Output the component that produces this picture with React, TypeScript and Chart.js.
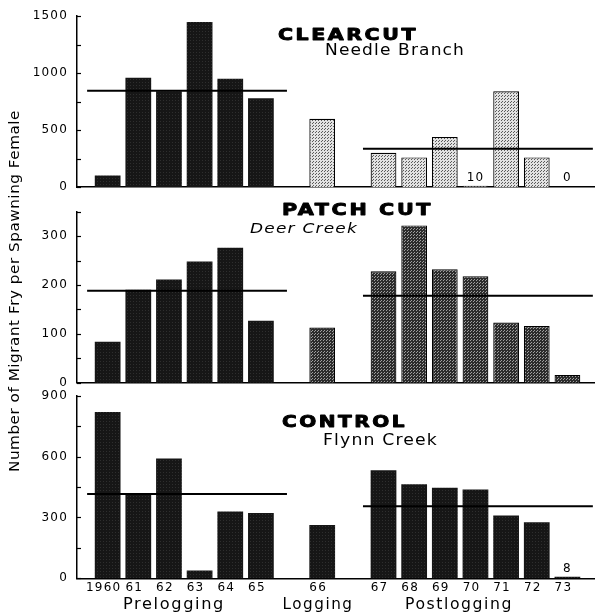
import React, { useEffect, useRef } from 'react';
import { Chart, registerables } from 'chart.js';
Chart.register(...registerables);

const W = 595;
const H = 616;
const FONT = 'DejaVu Sans';

// categories (years)
const preYears = ['1960', '61', '62', '63', '64', '65'];
const logYears = ['66'];
const postYears = ['67', '68', '69', '70', '71', '72', '73'];
const groupLabels = ['Prelogging', 'Logging', 'Postlogging'];
const yTitle = 'Number of Migrant Fry per Spawning Female';

// CLEARCUT – Needle Branch
const clearcutPre = [100, 960, 840, 1450, 950, 780];
const clearcutLog = [600];
const clearcutPost = [300, 260, 440, 10, 840, 260, 0];
const clearcutMeans = [845, 335];

// PATCH CUT – Deer Creek
const patchPre = [84, 190, 211, 248, 276, 127];
const patchLog = [113];
const patchPost = [228, 322, 232, 218, 123, 116, 16];
const patchMeans = [188, 178];

// CONTROL – Flynn Creek
const controlPre = [820, 410, 590, 38, 329, 322];
const controlLog = [263];
const controlPost = [533, 463, 446, 438, 309, 276, 8];
const controlMeans = [415, 355];

// y-axis ticks
const clearcutTicks = { max: 1500, step: 250, label: 500 };
const patchTicks = { max: 350, step: 50, label: 100 };
const controlTicks = { max: 900, step: 150, label: 300 };

// slot index on the x axis for each year (one empty slot between groups)
const preSlots = preYears.map((_, i) => i);
const logSlots = logYears.map((_, i) => preYears.length + 1 + i);
const postSlots = postYears.map((_, i) => preYears.length + logYears.length + 2 + i);
const allSlots = [...preSlots, ...logSlots, ...postSlots];
const allYears = [...preYears, ...logYears, ...postYears];

type Fill = 'dark' | 'light' | 'mid';

function makePattern(kind: Fill): CanvasPattern | string {
  const c = document.createElement('canvas');
  c.width = 3;
  c.height = 3;
  const g = c.getContext('2d');
  if (!g) return '#222';
  if (kind === 'light') {
    g.fillStyle = '#e2e2e2';
    g.fillRect(0, 0, 3, 3);
    g.fillStyle = '#5a5a5a';
    g.fillRect(0, 0, 1, 1);
    g.fillRect(1, 2, 1, 1);
  } else if (kind === 'mid') {
    g.fillStyle = '#2c2c2c';
    g.fillRect(0, 0, 3, 3);
    g.fillStyle = '#a0a0a0';
    g.fillRect(0, 0, 1, 1);
    g.fillRect(2, 1, 1, 1);
  } else {
    g.fillStyle = '#161616';
    g.fillRect(0, 0, 3, 3);
    g.fillStyle = '#2e2e2e';
    g.fillRect(1, 1, 1, 1);
  }
  return g.createPattern(c, 'repeat') || '#222';
}

type TextItem = {
  text: string;
  x: number;
  y: number;
  font: string;
  width: number; // target drawn width (text is stretched horizontally to it)
  spacing?: number;
  align?: CanvasTextAlign;
  rotate?: boolean;
  heavy?: boolean;
};

interface Panel {
  pre: number[];
  log: number[];
  post: number[];
  means: number[];
  ticks: { max: number; step: number; label: number };
  top: number;
  bottom: number;
  fills: Fill[];
  showX: boolean;
  texts: TextItem[];
}

const TITLE_FONT = `bold 16px "${FONT}"`;
const SUB_FONT = `15px "${FONT}"`;

const panels: Panel[] = [
  {
    pre: clearcutPre, log: clearcutLog, post: clearcutPost, means: clearcutMeans,
    ticks: clearcutTicks, top: 12.5, bottom: 187, fills: ['dark', 'light', 'light'], showX: false,
    texts: [
      { text: 'CLEARCUT', x: 278, y: 40, font: TITLE_FONT, spacing: 2, width: 140, heavy: true },
      { text: 'Needle Branch', x: 325, y: 55, font: SUB_FONT, spacing: 1, width: 140 },
    ],
  },
  {
    pre: patchPre, log: patchLog, post: patchPost, means: patchMeans,
    ticks: patchTicks, top: 211.7, bottom: 382.7, fills: ['dark', 'mid', 'mid'], showX: false,
    texts: [
      { text: 'PATCH CUT', x: 282, y: 214.5, font: TITLE_FONT, spacing: 2, width: 151, heavy: true },
      { text: 'Deer Creek', x: 250, y: 232.5, font: `italic 14px "${FONT}"`, spacing: 1, width: 108 },
    ],
  },
  {
    pre: controlPre, log: controlLog, post: controlPost, means: controlMeans,
    ticks: controlTicks, top: 395.7, bottom: 578.3, fills: ['dark', 'dark', 'dark'], showX: true,
    texts: [
      { text: 'CONTROL', x: 282, y: 427, font: TITLE_FONT, spacing: 2, width: 125, heavy: true },
      { text: 'Flynn Creek', x: 323, y: 445, font: SUB_FONT, spacing: 1, width: 115 },
      { text: groupLabels[0], x: 174, y: 609, font: `15px "${FONT}"`, spacing: 1.5, width: 102, align: 'center' },
      { text: groupLabels[1], x: 318, y: 609, font: `15px "${FONT}"`, spacing: 1.5, width: 71, align: 'center' },
      { text: groupLabels[2], x: 459, y: 609, font: `15px "${FONT}"`, spacing: 1.5, width: 108, align: 'center' },
      { text: yTitle, x: 15, y: 291, font: `14px "${FONT}"`, spacing: 0.5, width: 362, align: 'center', rotate: true },
    ],
  },
];

const X_MIN = -1;
const X_MAX = 15.9;
const PRE_SPAN = [-0.67, 5.85];
const POST_SPAN = [8.33, 15.83];

function makeChart(canvas: HTMLCanvasElement, p: Panel): Chart {
  const toPts = (vals: number[], slots: number[]) => vals.map((v, i) => ({ x: slots[i], y: v }));
  const bar = (vals: number[], slots: number[], fill: Fill) => ({
    type: 'bar' as const,
    data: toPts(vals, slots),
    backgroundColor: makePattern(fill),
    borderColor: '#000',
    borderWidth: fill === 'dark' ? 0 : 1.2,
    grouped: false,
    barPercentage: 0.84,
    categoryPercentage: 1,
    order: 1,
  });
  const meanLine = (m: number, span: number[]) => ({
    type: 'line' as const,
    data: [{ x: span[0], y: m }, { x: span[1], y: m }],
    borderColor: '#000',
    borderWidth: 2,
    pointRadius: 0,
    order: 0,
  });

  const textPlugin = {
    id: 'panelText',
    beforeDraw(chart: any) {
      chart.ctx.letterSpacing = '1.2px';
    },
    afterDraw(chart: any) {
      const ctx: CanvasRenderingContext2D = chart.ctx;
      ctx.save();
      ctx.fillStyle = '#000';
      ctx.strokeStyle = '#000';
      const ys = chart.scales.y;
      const xs = chart.scales.x;
      // inward tick marks on the y axis
      ctx.lineWidth = 1.2;
      ys.ticks.forEach((t: any) => {
        const py = Math.round(ys.getPixelForValue(t.value)) + 0.5;
        ctx.beginPath();
        ctx.moveTo(xs.left, py);
        ctx.lineTo(xs.left + 4, py);
        ctx.stroke();
      });
      // small-value labels
      ctx.font = `12px "${FONT}"`;
      (ctx as any).letterSpacing = '1px';
      ctx.textAlign = 'center';
      ctx.textBaseline = 'alphabetic';
      chart.data.datasets.forEach((d: any) => {
        if (d.type !== 'bar') return;
        d.data.forEach((pt: any) => {
          if (pt.y / p.ticks.max < 0.02) {
            const px = xs.getPixelForValue(pt.x);
            const py = ys.getPixelForValue(0);
            ctx.fillText(String(pt.y), px, py - 6);
          }
        });
      });
      p.texts.forEach((t) => {
        ctx.save();
        ctx.font = t.font;
        (ctx as any).letterSpacing = `${t.spacing || 0}px`;
        ctx.textAlign = t.align || 'left';
        ctx.textBaseline = 'alphabetic';
        const w = ctx.measureText(t.text).width;
        const sx = w > 0 ? t.width / w : 1;
        ctx.translate(t.x, t.y);
        if (t.rotate) {
          ctx.rotate(-Math.PI / 2);
          ctx.textBaseline = 'middle';
        }
        ctx.scale(sx, 1);
        ctx.fillText(t.text, 0, 0);
        if (t.heavy) {
          ctx.lineWidth = 0.9;
          ctx.lineJoin = 'round';
          ctx.strokeText(t.text, 0, 0);
        }
        ctx.restore();
      });
      ctx.restore();
      (ctx as any).letterSpacing = '0px';
    },
  };

  const xAxisH = p.showX ? 20 : 0;

  return new Chart(canvas, {
    type: 'bar',
    data: {
      datasets: [
        bar(p.pre, preSlots, p.fills[0]),
        bar(p.log, logSlots, p.fills[1]),
        bar(p.post, postSlots, p.fills[2]),
        meanLine(p.means[0], PRE_SPAN),
        meanLine(p.means[1], POST_SPAN),
      ] as any,
    },
    options: {
      responsive: false,
      animation: false,
      devicePixelRatio: 1,
      layout: {
        padding: { left: 0, right: 0, top: p.top, bottom: H - p.bottom - xAxisH },
      },
      plugins: { legend: { display: false }, tooltip: { enabled: false }, title: { display: false } },
      scales: {
        x: {
          type: 'linear',
          min: X_MIN,
          max: X_MAX,
          offset: false,
          grid: { display: false, drawTicks: false, tickLength: 0, offset: false },
          border: { display: true, color: '#000', width: 1.5 },
          ticks: {
            display: p.showX,
            color: '#000',
            font: { family: FONT, size: 12 },
            padding: 2,
            labelOffset: -4,
            maxRotation: 0,
            autoSkip: false,
            callback: (v: any) => {
              const i = allSlots.indexOf(Number(v));
              return i >= 0 ? allYears[i] : '';
            },
          },
          afterBuildTicks: (s: any) => {
            s.ticks = allSlots.map((v) => ({ value: v }));
          },
          afterFit: (s: any) => {
            s.height = xAxisH;
          },
        },
        y: {
          min: 0,
          max: p.ticks.max,
          grid: { display: false, drawOnChartArea: false, drawTicks: false, tickLength: 0 },
          border: { display: true, color: '#000', width: 1.5 },
          ticks: {
            stepSize: p.ticks.step,
            color: '#000',
            font: { family: FONT, size: 12 },
            padding: 9,
            autoSkip: false,
            callback: (v: any) => (Number(v) % p.ticks.label === 0 ? String(v) : ''),
          },
          afterFit: (s: any) => {
            s.width = 77;
          },
        },
      },
    } as any,
    plugins: [textPlugin],
  });
}

export default function App() {
  const r0 = useRef<HTMLCanvasElement>(null);
  const r1 = useRef<HTMLCanvasElement>(null);
  const r2 = useRef<HTMLCanvasElement>(null);

  useEffect(() => {
    const refs = [r0, r1, r2];
    const charts = panels.map((p, i) => makeChart(refs[i].current as HTMLCanvasElement, p));
    return () => charts.forEach((c) => c.destroy());
  }, []);

  const cs: React.CSSProperties = { position: 'absolute', left: 0, top: 0, width: W, height: H };
  return (
    <div style={{ position: 'fixed', left: 0, top: 0, width: W, height: H, background: '#fff' }}>
      <canvas ref={r0} width={W} height={H} style={cs} />
      <canvas ref={r1} width={W} height={H} style={cs} />
      <canvas ref={r2} width={W} height={H} style={cs} />
    </div>
  );
}
